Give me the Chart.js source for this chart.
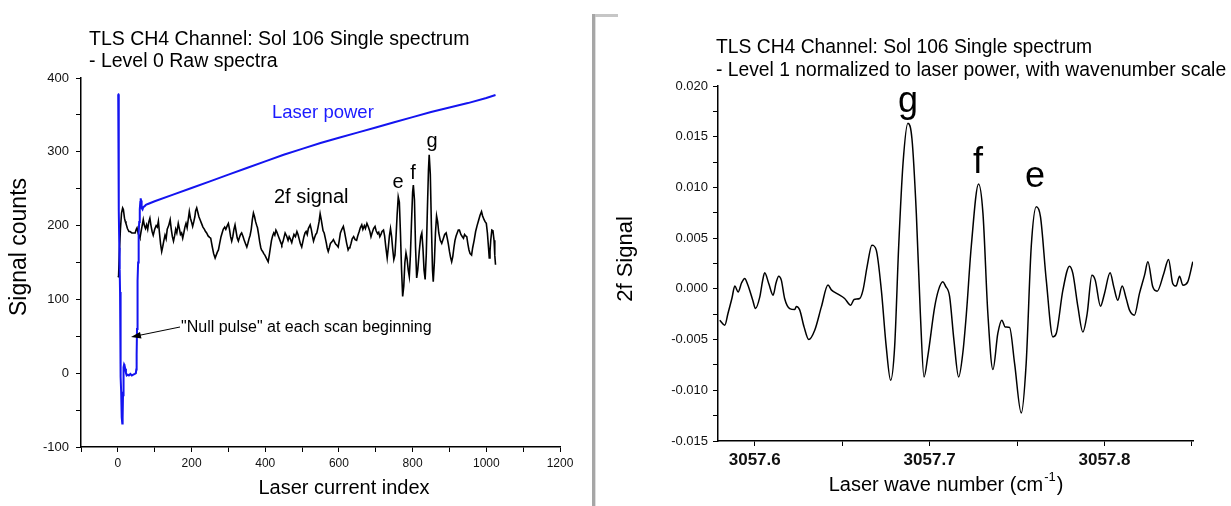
<!DOCTYPE html>
<html lang="en">
<head>
<meta charset="UTF-8">
<title>TLS CH4 Channel: Sol 106 Single spectrum</title>
<script src="https://cdn.jsdelivr.net/npm/chart.js"></script>
<style>
  html, body { margin: 0; padding: 0; background: #fff; }
  body { width: 1231px; height: 506px; position: relative; overflow: hidden; }
  #rawChart { position: absolute; left: 0; top: 0; }
  #normChart { position: absolute; left: 597px; top: 0; }
  .divider { position: absolute; left: 592px; top: 14px; width: 3px; height: 492px; background: #a6a6a6; border-right: 1px solid #dedede; }
  .divider-cap { position: absolute; left: 595px; top: 14px; width: 23px; height: 3px; background: #c6c6c6; }
</style>
</head>
<body>
<canvas id="rawChart" width="590" height="506"></canvas>
<div class="divider"></div>
<div class="divider-cap"></div>
<canvas id="normChart" width="634" height="506"></canvas>

<script>
// --- Level 0: laser power (blue) ---
const powerIndex  = [0, 1, 2, 3, 4, 5, 6, 7, 8, 9, 10, 11, 12, 13, 14, 15, 16, 17, 18, 20, 22, 24, 27, 30, 34, 38, 42, 46, 49,
                     50, 51, 52, 53, 54, 55, 56, 57, 58, 59, 60, 61, 62, 63, 64, 65, 67, 69, 72, 76, 80,
                     100, 150, 200, 250, 300, 350, 400, 450, 500, 550, 600, 650, 700, 750, 800, 850, 900, 950, 1000, 1025];
const powerCounts = [378, 378, 300, 220, 170, 140, 110, 50, -5, -25, -45, -60, -68, -60, -30, -5, 8, 12, 11, 6, 0, -3, -2, -3, -1, -3, -2, -1, 0,
                     5, 25, 60, 95, 125, 150, 170, 190, 205, 215, 222, 232, 237, 234, 228, 224, 222, 225, 226, 228, 229,
                     233, 242, 251, 260, 269, 278, 287, 296, 304, 312, 319, 326, 333, 340, 347, 354, 360, 366, 373, 377];

// --- Level 0: 2f signal (black) ---
const rawIndex = [0, 2, 4, 7, 10, 13, 15, 18, 20, 22, 26, 30, 33, 38, 42, 47, 50, 52, 55, 58, 60, 63, 66, 69, 72, 75, 78, 81, 84, 87, 90, 93, 96,
  100, 104, 107, 110, 113, 116, 119, 122, 125, 128, 131, 134, 138, 142, 145, 148, 151, 154, 157, 160, 164, 167, 170, 173, 176, 179, 182, 185, 188, 191, 194, 197,
  200, 203, 206, 209, 211, 214, 217, 220, 224, 227, 231, 235, 238, 241, 245, 249, 252, 256, 260, 264, 267, 270, 273, 276, 280, 283, 286, 290, 293, 297,
  300, 303, 306, 309, 312, 315, 318, 321, 324, 327, 330, 333, 336, 340, 343, 346, 350, 353, 356, 359, 362, 365, 368, 371, 374, 377, 379, 382, 385, 388, 390, 393, 396, 399,
  402, 405, 408, 411, 414, 417, 420, 423, 426, 429, 431, 434, 437, 440, 443, 445, 448, 451, 454, 458, 462, 465, 468, 472, 475, 478, 482, 486, 489, 492, 495, 499,
  502, 505, 508, 511, 514, 517, 520, 522, 525, 528, 531, 534, 537, 540, 543, 546, 549, 552, 555, 557, 560, 563, 566, 568, 571, 574, 577, 581, 585, 588, 591, 595, 598,
  601, 604, 608, 612, 615, 618, 621, 625, 628, 630, 633, 636, 640, 644, 648, 651, 655, 658, 662, 665, 669, 672, 676, 680, 684, 687, 690, 694, 698,
  701, 705, 708, 711, 714, 717, 721, 724, 727, 731, 734, 737, 740, 743, 746, 749, 752, 755, 758, 761, 764, 767, 770, 773, 776, 779, 782, 785, 788, 791, 794, 797,
  800, 802, 805, 808, 811, 814, 818, 822, 825, 828, 831, 834, 837, 840, 843, 845, 848, 851, 854, 856, 859, 862, 865, 868, 871, 875, 879, 883, 887, 891, 894, 897,
  900, 903, 906, 909, 912, 915, 918, 921, 924, 927, 931, 935, 938, 941, 944, 947, 950, 953, 956, 960, 963, 967, 971, 975, 979, 983, 987, 990, 994, 997,
  1000, 1003, 1006, 1008, 1010, 1012, 1015, 1018, 1021, 1023, 1025];
const rawSignal = [130, 131, 162, 195, 217, 224, 222, 210, 206, 203, 196, 192, 192, 190, 190, 190, 195, 197, 190, 185, 183, 192, 200, 208, 200, 196, 201, 195, 205, 210, 200, 192, 187,
  195, 200, 198, 206, 190, 175, 165, 172, 180, 187, 182, 195, 200, 208, 195, 185, 179, 186, 195, 190, 203, 196, 188, 190, 183, 190, 198, 203, 197, 208, 219, 210,
  205, 199, 205, 212, 220, 224, 218, 212, 207, 203, 198, 195, 192, 190, 186, 184, 183, 172, 162, 156, 160, 164, 167, 175, 185, 190, 195, 198, 195, 200,
  203, 195, 185, 179, 185, 195, 201, 192, 183, 179, 184, 188, 190, 185, 180, 176, 171, 176, 182, 187, 195, 208, 217, 212, 205, 200, 197, 188, 178, 170, 167, 165, 162, 160,
  157, 154, 151, 160, 170, 180, 186, 190, 187, 194, 192, 188, 184, 180, 176, 174, 178, 184, 190, 186, 180, 185, 182, 177, 183, 188, 185, 192, 188, 182, 176, 171,
  178, 185, 190, 192, 188, 196, 199, 201, 195, 186, 179, 184, 188, 190, 197, 205, 216, 208, 199, 193, 190, 183, 176, 170, 165, 170, 176, 178, 181, 178, 175, 173, 171,
  180, 190, 195, 199, 192, 184, 176, 167, 170, 171, 176, 182, 185, 181, 180, 186, 192, 197, 201, 195, 200, 196, 203, 198, 192, 185, 190, 196, 199,
  193, 189, 191, 185, 188, 192, 194, 186, 172, 156, 170, 186, 196, 185, 168, 154, 160, 185, 215, 239, 232, 190, 140, 104, 118, 150, 163, 155, 140, 131, 160, 205,
  245, 255, 235, 170, 129, 140, 165, 185, 190, 170, 140, 127, 160, 220, 275, 296, 270, 200, 140, 124, 150, 190, 213, 205, 190, 180, 176, 182, 188, 190, 183, 175,
  165, 157, 151, 158, 170, 180, 186, 190, 194, 194, 188, 185, 183, 188, 186, 185, 175, 167, 162, 160, 170, 180, 192, 200, 207, 214, 219, 213, 208, 205,
  203, 190, 170, 156, 165, 180, 194, 193, 180, 160, 147];

// --- Level 1: normalized 2f signal ---
const waveNumber = [3057.5800, 3057.5829, 3057.5847, 3057.5870, 3057.5886, 3057.5905, 3057.5925, 3057.5943, 3057.5958, 3057.5971, 3057.5990,
  3057.6004, 3057.6029, 3057.6045, 3057.6057, 3057.6080, 3057.6105, 3057.6122, 3057.6137, 3057.6152, 3057.6171, 3057.6200, 3057.6229, 3057.6238,
  3057.6257, 3057.6282, 3057.6309, 3057.6343, 3057.6381, 3057.6419, 3057.6438, 3057.6476, 3057.6514, 3057.6549, 3057.6568, 3057.6600, 3057.6619,
  3057.6644, 3057.6670, 3057.6695, 3057.6724, 3057.6752, 3057.6777, 3057.6800, 3057.6823, 3057.6848, 3057.6876, 3057.6899, 3057.6924, 3057.6947,
  3057.6968, 3057.6990, 3057.7029, 3057.7051, 3057.7076, 3057.7091, 3057.7114, 3057.7139, 3057.7166, 3057.7190, 3057.7210, 3057.7238, 3057.7280,
  3057.7305, 3057.7333, 3057.7362, 3057.7390, 3057.7413, 3057.7432, 3057.7457, 3057.7486, 3057.7524, 3057.7552, 3057.7581, 3057.7610, 3057.7634,
  3057.7667, 3057.7705, 3057.7724, 3057.7762, 3057.7800, 3057.7819, 3057.7848, 3057.7876, 3057.7901, 3057.7928, 3057.7947, 3057.7977, 3057.8000,
  3057.8032, 3057.8053, 3057.8076, 3057.8101, 3057.8124, 3057.8143, 3057.8171, 3057.8200, 3057.8229, 3057.8248, 3057.8276, 3057.8301, 3057.8339,
  3057.8366, 3057.8390, 3057.8409, 3057.8429, 3057.8448, 3057.8476, 3057.8505];
const normSignal = [-0.00309, -0.00358, -0.00243, -0.00090, 0.00027, -0.00030, 0.00060, 0.00103, 0.00050, -0.00013, -0.00120,
  -0.00194, -0.00079, 0.00080, 0.00158, 0.00053, -0.00062, 0.00060, 0.00125, 0.00086, -0.00095, -0.00194, -0.00204, -0.00174,
  -0.00207, -0.00375, -0.00500, -0.00408, -0.00178, 0.00037, -0.00010, -0.00052, -0.00095, -0.00161, -0.00105, -0.00095, -0.00013,
  0.00234, 0.00431, 0.00382, -0.00013, -0.00572, -0.00901, -0.00570, 0.00415, 0.01238, 0.01633, 0.01480, 0.00744, -0.00243,
  -0.00869, -0.00660, -0.00178, -0.00010, 0.00069, 0.00027, -0.00072, -0.00506, -0.00869, -0.00630, -0.00250, 0.00415, 0.01034,
  0.00744, -0.00243, -0.00796, -0.00440, -0.00309, -0.00375, -0.00380, -0.00737, -0.01224, -0.00737, 0.00415, 0.00810, 0.00710,
  0.00086, -0.00474, -0.00441, -0.00013, 0.00224, 0.00152, -0.00178, -0.00425, -0.00243, 0.00135, 0.00086, -0.00171, -0.00045,
  0.00158, 0.00020, -0.00112, 0.00027, -0.00095, -0.00210, -0.00259, -0.00045, 0.00135, 0.00267, 0.00020, -0.00023, 0.00152,
  0.00290, 0.00053, 0.00027, 0.00125, 0.00036, 0.00069, 0.00267];

// ticks (major ones carry labels)
const rawXTicks  = [-100, 0, 100, 200, 300, 400, 500, 600, 700, 800, 900, 1000, 1100, 1200];
const rawXLabels = [0, 200, 400, 600, 800, 1000, 1200];
const rawYTicks  = [-100, -50, 0, 50, 100, 150, 200, 250, 300, 350, 400];
const rawYLabels = [-100, 0, 100, 200, 300, 400];
const normYTicks  = [-0.015, -0.0125, -0.01, -0.0075, -0.005, -0.0025, 0, 0.0025, 0.005, 0.0075, 0.01, 0.0125, 0.015, 0.0175, 0.02];
const normYLabels = ['-0.015', '-0.010', '-0.005', '0.000', '0.005', '0.010', '0.015', '0.020'];
const waveTicks  = [3057.6, 3057.65, 3057.7, 3057.75, 3057.8, 3057.85];
const waveLabels = ['3057.6', '3057.7', '3057.8'];

const FONT = '"Liberation Sans", Arial, sans-serif';
Chart.defaults.font.family = FONT;
Chart.defaults.color = '#111';

function toPoints(xs, ys) {
    return xs.map((x, i) => ({ x: x, y: ys[i] }));
}

function findLabel(list, value) {
    const hit = list.find(l => Math.abs(parseFloat(l) - value) < 1e-7);
    return hit === undefined ? '' : String(hit);
}

function text(ctx, str, x, y, size, opts) {
    opts = opts || {};
    ctx.save();
    ctx.font = (opts.weight || 'normal') + ' ' + size + 'px ' + FONT;
    ctx.fillStyle = opts.color || '#000';
    ctx.textAlign = opts.align || 'left';
    ctx.textBaseline = 'alphabetic';
    ctx.translate(x, y);
    if (opts.rotate) ctx.rotate(opts.rotate);
    ctx.fillText(str, 0, 0);
    ctx.restore();
}

function axisStyle() {
    return {
        grid: { drawOnChartArea: false, drawTicks: true, tickLength: 5, color: '#000', tickWidth: 1 },
        border: { display: true, color: '#000', width: 1.5 }
    };
}

// Level 0 annotations
const rawTextPlugin = {
    id: 'rawText',
    afterDraw(chart) {
        const ctx = chart.ctx;
        text(ctx, 'TLS CH4 Channel: Sol 106 Single spectrum', 89, 45, 19.5);
        text(ctx, '- Level 0 Raw spectra', 89, 67, 19.5);
        text(ctx, 'Signal counts', 26, 247, 23, { align: 'center', rotate: -Math.PI / 2 });
        text(ctx, 'Laser current index', 344, 494, 20, { align: 'center' });
        text(ctx, 'Laser power', 272, 118, 18.5, { color: '#1a1aff' });
        text(ctx, '2f signal', 274, 203, 20);
        text(ctx, 'e', 398, 188, 20, { align: 'center' });
        text(ctx, 'f', 413, 179, 20, { align: 'center' });
        text(ctx, 'g', 432, 147, 20, { align: 'center' });
        text(ctx, '"Null pulse" at each scan beginning', 181, 332, 16);
        // arrow to the null pulse
        ctx.save();
        ctx.strokeStyle = '#000';
        ctx.fillStyle = '#000';
        ctx.lineWidth = 1;
        ctx.beginPath();
        ctx.moveTo(180, 327);
        ctx.lineTo(138, 335.6);
        ctx.stroke();
        ctx.beginPath();
        ctx.moveTo(131, 337);
        ctx.lineTo(140, 332);
        ctx.lineTo(141.5, 338.5);
        ctx.closePath();
        ctx.fill();
        ctx.restore();
    }
};

// Level 1 annotations
const normTextPlugin = {
    id: 'normText',
    afterDraw(chart) {
        const ctx = chart.ctx;
        text(ctx, 'TLS CH4 Channel: Sol 106 Single spectrum', 119, 53, 19.3);
        text(ctx, '- Level 1 normalized to laser power, with wavenumber scale', 119, 76, 19.3);
        text(ctx, '2f Signal', 35, 259, 22, { align: 'center', rotate: -Math.PI / 2 });
        text(ctx, 'g', 311, 112, 36, { align: 'center' });
        text(ctx, 'f', 381, 173, 36, { align: 'center' });
        text(ctx, 'e', 438, 187, 36, { align: 'center' });
        // x title with superscript
        ctx.save();
        const main = 'Laser wave number (cm', sup = '-1', close = ')';
        ctx.font = '20px ' + FONT;
        const w1 = ctx.measureText(main).width;
        const w3 = ctx.measureText(close).width;
        ctx.font = '13px ' + FONT;
        const w2 = ctx.measureText(sup).width + 2;
        ctx.restore();
        const x0 = 349 - (w1 + w2 + w3) / 2;
        text(ctx, main, x0, 491, 20);
        text(ctx, sup, x0 + w1 + 1, 481, 13);
        text(ctx, close, x0 + w1 + w2, 491, 20);
    }
};

document.addEventListener('DOMContentLoaded', function () {
    // Level 0 raw spectra
    const rx = axisStyle();
    const ry = axisStyle();
    new Chart(document.getElementById('rawChart'), {
        type: 'line',
        data: {
            datasets: [
                { label: 'Laser power', data: toPoints(powerIndex, powerCounts), borderColor: '#1414f0', borderWidth: 2, pointRadius: 0, tension: 0, fill: false },
                { label: '2f signal', data: toPoints(rawIndex, rawSignal), borderColor: '#000', borderWidth: 1.6, pointRadius: 0, tension: 0, fill: false }
            ]
        },
        options: {
            responsive: false,
            animation: false,
            layout: { padding: { top: 78, right: 30, left: 0, bottom: 0 } },
            plugins: { legend: { display: false }, tooltip: { enabled: false } },
            scales: {
                x: {
                    type: 'linear', min: -100, max: 1200,
                    grid: rx.grid, border: rx.border,
                    afterBuildTicks: s => { s.ticks = rawXTicks.map(v => ({ value: v })); },
                    ticks: { autoSkip: false, maxRotation: 0, padding: 4, font: { size: 12 },
                             callback: v => rawXLabels.includes(v) ? String(v) : '' },
                    afterFit: s => { s.height = 59; }
                },
                y: {
                    type: 'linear', min: -100, max: 400,
                    grid: ry.grid, border: ry.border,
                    afterBuildTicks: s => { s.ticks = rawYTicks.map(v => ({ value: v })); },
                    ticks: { autoSkip: false, padding: 7, font: { size: 13 },
                             callback: v => rawYLabels.includes(v) ? String(v) : '' },
                    afterFit: s => { s.width = 81; }
                }
            }
        },
        plugins: [rawTextPlugin]
    });

    // Level 1 normalized spectrum
    const nx = axisStyle();
    const ny = axisStyle();
    new Chart(document.getElementById('normChart'), {
        type: 'line',
        data: {
            datasets: [
                { label: '2f Signal', data: toPoints(waveNumber, normSignal), borderColor: '#000', borderWidth: 1.5, pointRadius: 0,
                  cubicInterpolationMode: 'monotone', fill: false }
            ]
        },
        options: {
            responsive: false,
            animation: false,
            layout: { padding: { top: 86, right: 38, left: 0, bottom: 0 } },
            plugins: { legend: { display: false }, tooltip: { enabled: false } },
            scales: {
                x: {
                    type: 'linear', min: 3057.579, max: 3057.8506,
                    grid: nx.grid, border: nx.border,
                    afterBuildTicks: s => { s.ticks = waveTicks.map(v => ({ value: v })); },
                    ticks: { autoSkip: false, maxRotation: 0, padding: 4, font: { size: 17, weight: 'bold' },
                             callback: v => findLabel(waveLabels, v) },
                    afterFit: s => { s.height = 65; }
                },
                y: {
                    type: 'linear', min: -0.015, max: 0.02,
                    grid: ny.grid, border: ny.border,
                    afterBuildTicks: s => { s.ticks = normYTicks.map(v => ({ value: v })); },
                    ticks: { autoSkip: false, padding: 5, font: { size: 13 },
                             callback: v => findLabel(normYLabels, v) },
                    afterFit: s => { s.width = 121; }
                }
            }
        },
        plugins: [normTextPlugin]
    });
});
</script>
</body>
</html>
